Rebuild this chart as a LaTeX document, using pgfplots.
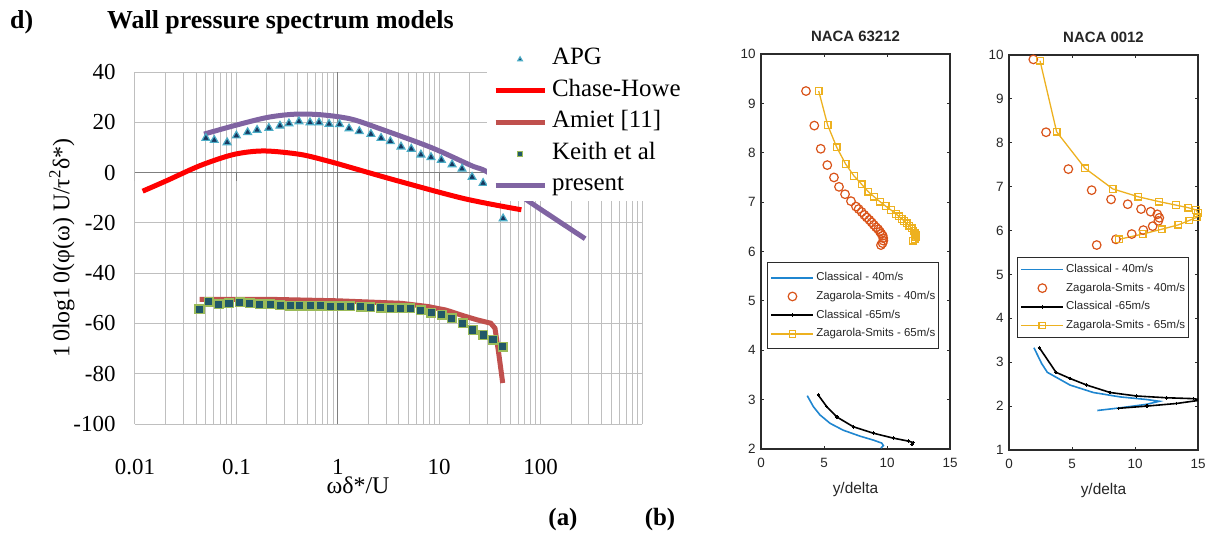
\documentclass[border=0pt]{standalone}
\usepackage{fontspec}
\setmainfont{Liberation Serif}
\newfontfamily\sansf{Liberation Sans}
\usepackage{pgfplots}
\pgfplotsset{compat=1.18}
\definecolor{gridgray}{HTML}{BFBFBF}
\definecolor{axgray}{HTML}{7F7F7F}
\definecolor{chred}{HTML}{FF0000}
\definecolor{amiet}{HTML}{C0504D}
\definecolor{present}{HTML}{8064A2}
\definecolor{apgfill}{HTML}{17375E}
\definecolor{apgedge}{HTML}{4BACC6}
\definecolor{keithfill}{HTML}{215868}
\definecolor{keithedge}{HTML}{9BBB59}
\definecolor{mlblue}{HTML}{1F86D0}
\definecolor{mlorange}{HTML}{D95319}
\definecolor{mlyellow}{HTML}{EDB120}
\definecolor{mlgray}{HTML}{2B2B2B}
\definecolor{mltext}{HTML}{262626}

\pgfplotsset{
  mlab/.style={
    scale only axis, width=189bp, height=395bp,
    xmin=0, xmax=15, xtick={0,5,10,15},
    /pgf/number format/assume math mode=true,
    axis line style={line width=1.5bp, draw=mlgray},
    tick style={line width=1bp, draw=mlgray},
    major tick length=3bp,
    tick label style={font=\sansf\fontsize{13.5}{13.5}\selectfont, text=mltext},
    xticklabel style={yshift=-6bp},
    yticklabel style={xshift=-2bp},
    title style={font=\sansf\bfseries\fontsize{15}{15}\selectfont, text=mltext,
      at={(axis description cs:0.5,1)}, anchor=center, yshift=12bp},
    xlabel={y/delta},
    xlabel style={font=\sansf\fontsize{15.5}{15.5}\selectfont, text=mltext,
      at={(axis description cs:0.5,0)}, anchor=center, yshift=-41bp},
    legend image code/.code={\draw[mark repeat=2,mark phase=2,##1] plot coordinates {(0bp,0bp) (21bp,0bp) (42bp,0bp)};},
    legend style={draw=mlgray, line width=1.2bp, fill=white, anchor=north west,
      font=\sansf\fontsize{11.5}{11.5}\selectfont, text=mltext,
      inner xsep=3bp, inner ysep=7bp, row sep=6.7bp,
      nodes={inner sep=0pt, text height=9bp, text depth=3bp},
      /tikz/every odd column/.append style={column sep=2bp}},
    legend cell align=left,
  },
  cl40/.style={color=mlblue, line width=1.6bp, mark=none},
  za40/.style={only marks, mark=o, mark size=4.3bp, draw=mlorange, line width=1.2bp},
  cl65/.style={color=black, line width=1.6bp, mark=+, mark size=1.8bp},
  za65/.style={color=mlyellow, line width=1.3bp, mark=square, mark size=3.3bp},
}

\begin{document}
\begin{tikzpicture}[x=1bp,y=1bp]
\path[use as bounding box] (0bp,0bp) rectangle (1208bp,-534bp);

\node[anchor=base west, inner sep=0pt, font=\bfseries\fontsize{26}{26}\selectfont] at (10bp,-28bp) {d)};
\node[anchor=base west, inner sep=0pt, font=\bfseries\fontsize{26}{26}\selectfont] at (107bp,-28bp) {Wall pressure spectrum models};
\node[anchor=center, inner sep=0pt, font=\bfseries\fontsize{25}{25}\selectfont] at (563bp,-520bp) {(a)};
\node[anchor=center, inner sep=0pt, font=\bfseries\fontsize{25}{25}\selectfont] at (660bp,-520bp) {(b)};

% ---------------- left: wall pressure spectra ----------------
\begin{axis}[
  at={(135bp,-72bp)}, anchor=north west,
  scale only axis, width=507bp, height=352bp,
  xmode=log, xmin=0.01, xmax=1000, ymin=-100, ymax=40,
  axis line style={draw=none},
  major tick length=0pt, minor tick length=0pt,
  xtick={0.01,0.1,1,10,100,1000},
  xticklabels={0.01,0.1,1,10,100,{}},
  minor xtick={0.02,0.03,0.04,0.05,0.06,0.07,0.08,0.09,0.2,0.3,0.4,0.5,0.6,0.7,0.8,0.9,2,3,4,5,6,7,8,9,20,30,40,50,60,70,80,90,200,300,400,500,600,700,800,900},
  ytick={-100,-80,-60,-40,-20,0,20,40},
  yticklabels={-100,-80,-60,-40,-20,0,20,40},
  grid=both,
  major grid style={draw=gridgray, line width=1bp},
  minor grid style={draw=gridgray, line width=1bp},
  tick label style={font=\fontsize{23}{23}\selectfont},
  yticklabel style={anchor=east, xshift=-16bp},
  xticklabel style={anchor=north, yshift=-32bp},
  xlabel={ωδ*/U},
  xlabel style={font=\fontsize{24}{24}\selectfont, at={(axis description cs:0.44,0)}, anchor=center, yshift=-61bp},
  ylabel={1\,0log1\,0(φ(ω) U/τ\textsuperscript{2}δ*)},
  ylabel style={font=\fontsize{24}{24}\selectfont, at={(axis description cs:-0.144,0.5)}, anchor=center},
  legend image code/.code={\draw[mark repeat=2,mark phase=2,#1] plot coordinates {(0bp,0bp) (24.5bp,0bp) (49bp,0bp)};},
  legend image post style={mark size=2.6bp},
  legend cell align=left,
  legend style={at={(axis description cs:0.694,1.081)}, anchor=north west,
    draw=none, fill=white, inner xsep=6bp, inner ysep=0bp, row sep=0pt,
    font=\fontsize{25}{25}\selectfont,
    nodes={inner sep=0pt, text height=21bp, text depth=10.5bp},
    /tikz/every odd column/.append style={column sep=5bp}},
]
\draw[axgray, line width=1bp] (axis cs:1,-100) -- (axis cs:1,40);
\draw[axgray, line width=1bp] (axis cs:0.01,0) -- (axis cs:1000,0);
\draw[axgray, line width=1bp] (axis cs:0.01,0) -- ([yshift=-8bp]axis cs:0.01,0);
\draw[axgray, line width=1bp] (axis cs:0.1,0) -- ([yshift=-8bp]axis cs:0.1,0);
\draw[axgray, line width=1bp] (axis cs:1,0) -- ([yshift=-8bp]axis cs:1,0);
\draw[axgray, line width=1bp] (axis cs:10,0) -- ([yshift=-8bp]axis cs:10,0);
\draw[axgray, line width=1bp] (axis cs:100,0) -- ([yshift=-8bp]axis cs:100,0);
\draw[axgray, line width=1bp] (axis cs:1000,0) -- ([yshift=-8bp]axis cs:1000,0);

\addplot[only marks, mark=triangle*, mark size=4.5bp, mark options={fill=apgfill, draw=apgedge, line width=1.2bp}] coordinates {
(0.050,13.7) (0.0605,12.9) (0.081,12.0) (0.1,14.7) (0.129,16.0) (0.160,16.9) (0.209,17.7) (0.269,18.6) (0.33,19.5) (0.414,20.3) (0.532,19.9) (0.653,19.9) (0.82,19.3) (1.04,19.2) (1.29,17.5) (1.63,16.4) (2.12,15.3) (2.67,13.7) (3.3,12.4) (4.2,10.3) (5.3,9.4) (6.6,7.1) (8.3,6.1) (10.5,5.0) (13.4,3.2) (16.8,1.5) (21.1,-1.8) (27.1,-4.2) (42.7,-18.3)
};
\addlegendentry{APG}
\addplot[chred, line width=5bp, smooth] coordinates {
(0.0119,-7.4) (0.0206,-3.2) (0.044,2.8) (0.094,7.2) (0.186,8.6) (0.43,7.2) (0.85,4.3) (1.35,2.0) (3.9,-3.3) (17.8,-10.4) (64.6,-14.8)
};
\addlegendentry{Chase-Howe}
\addplot[amiet, line width=5bp] coordinates {
(0.0433,-50.4) (0.204,-50.4) (1,-51.0) (4.25,-52.0) (7.8,-53.3) (11.7,-54.7) (17.5,-57.0) (23.8,-58.6) (32.2,-59.9) (35.5,-61.9) (38.6,-71.8) (42.3,-83.7)
};
\addlegendentry{Amiet [11]}
\addplot[only marks, mark=square*, mark size=4.3bp, mark options={fill=keithfill, draw=keithedge, line width=1.5bp}] coordinates {
(0.0433,-54.4) (0.0536,-51.4) (0.067,-52.4) (0.0846,-52.0) (0.108,-51.6) (0.136,-52.0) (0.170,-52.4) (0.215,-52.4) (0.271,-52.7) (0.339,-52.9) (0.423,-52.9) (0.533,-52.9) (0.674,-52.9) (0.84,-53.1) (1.06,-53.1) (1.33,-53.1) (1.68,-53.3) (2.09,-53.6) (2.64,-53.7) (3.33,-54.0) (4.17,-54.0) (5.2,-54.0) (6.57,-54.7) (8.37,-55.7) (10.6,-56.6) (13.3,-57.9) (17.0,-59.9) (21.5,-62.6) (27.1,-64.6) (33.9,-66.5) (42.3,-69.2)
};
\addlegendentry{Keith et al}
\addplot[present, line width=5bp, smooth] coordinates {
(0.048,15.3) (0.094,18.6) (0.20,21.9) (0.37,23.2) (0.68,23.0) (1.35,21.3) (2.67,17.3) (8.3,10.0) (20.7,2.8) (30.2,0.1) (70,-10.4) (275,-26.3)
};
\addlegendentry{present}
\end{axis}

% ---------------- middle: NACA 63212 ----------------
\begin{axis}[mlab, at={(761bp,-54bp)}, anchor=north west,
  ymin=2, ymax=10, ytick={2,3,4,5,6,7,8,9,10},
  title={NACA 63212},
  legend style={at={(axis description cs:0.032,0.473)}, inner ysep=9bp},
]
\addplot[cl40] coordinates {
(3.67,3.08) (4.15,2.86) (4.68,2.69) (5.48,2.52) (6.53,2.38) (7.86,2.26) (8.92,2.18) (9.58,2.12) (9.71,2.07) (9.52,2.02)
};
\addlegendentry{Classical - 40m/s}
\addplot[za40] coordinates {
(3.57,9.25) (4.23,8.55) (4.74,8.08) (5.26,7.75) (5.79,7.50) (6.19,7.31) (6.67,7.16) (7.14,7.02) (7.54,6.91) (7.75,6.86) (7.99,6.80) (8.2,6.74) (8.39,6.69) (8.6,6.64) (8.78,6.59) (8.95,6.54) (9.13,6.49) (9.3,6.45) (9.44,6.40) (9.55,6.36) (9.66,6.32) (9.7,6.27) (9.71,6.22) (9.65,6.17) (9.52,6.13)
};
\addlegendentry{Zagarola-Smits - 40m/s}
\addplot[cl65] coordinates {
(4.55,3.09) (5.21,2.86) (6.01,2.65) (7.33,2.45) (8.92,2.32) (10.5,2.22) (11.69,2.16) (12.09,2.13) (11.96,2.09)
};
\addlegendentry{Classical -65m/s}
\addplot[za65] coordinates {
(4.58,9.25) (5.29,8.56) (6.01,8.11) (6.72,7.77) (7.38,7.53) (7.99,7.36) (8.52,7.21) (8.97,7.11) (9.44,7.01) (9.89,6.92) (10.32,6.84) (10.71,6.76) (10.95,6.71) (11.16,6.66) (11.36,6.62) (11.56,6.57) (11.76,6.52) (11.96,6.47) (12.1,6.42) (12.22,6.37) (12.27,6.33) (12.28,6.29) (12.2,6.25) (12.04,6.22)
};
\addlegendentry{Zagarola-Smits - 65m/s}
\end{axis}

% ---------------- right: NACA 0012 ----------------
\begin{axis}[mlab, at={(1009bp,-55bp)}, anchor=north west,
  ymin=1, ymax=10, ytick={1,2,3,4,5,6,7,8,9,10},
  title={NACA 0012},
  legend style={at={(axis description cs:0.042,0.489)}, inner ysep=6bp},
]
\addplot[cl40] coordinates {
(1.98,3.33) (2.59,2.97) (3.04,2.77) (3.91,2.63) (4.84,2.48) (6.69,2.31) (8.81,2.21) (10.93,2.15) (11.93,2.11) (10.9,2.04) (8.81,1.96) (7.01,1.90)
};
\addlegendentry{Classical - 40m/s}
\addplot[za40] coordinates {
(1.93,9.90) (2.94,8.24) (4.71,7.40) (6.56,6.92) (8.10,6.71) (9.42,6.60) (10.48,6.49) (11.24,6.43) (11.77,6.37) (11.93,6.29) (11.85,6.22) (11.40,6.10) (10.66,6.01) (9.74,5.92) (8.49,5.80) (6.96,5.67)
};
\addlegendentry{Zagarola-Smits - 40m/s}
\addplot[cl65] coordinates {
(2.41,3.33) (3.73,2.77) (4.84,2.63) (6.16,2.48) (8.02,2.31) (10.13,2.23) (12.51,2.19) (14.63,2.17) (15.3,2.14) (13.3,2.06) (10.93,2.00) (8.68,1.95)
};
\addlegendentry{Classical -65m/s}
\addplot[za65] coordinates {
(2.46,9.87) (3.78,8.25) (6.03,7.42) (8.23,6.95) (10.26,6.77) (11.90,6.66) (13.25,6.58) (14.23,6.52) (14.84,6.47) (15.0,6.40) (14.9,6.30) (14.3,6.23) (13.44,6.13) (12.12,6.03) (10.61,5.92) (8.73,5.80)
};
\addlegendentry{Zagarola-Smits - 65m/s}
\end{axis}
\end{tikzpicture}
\end{document}
